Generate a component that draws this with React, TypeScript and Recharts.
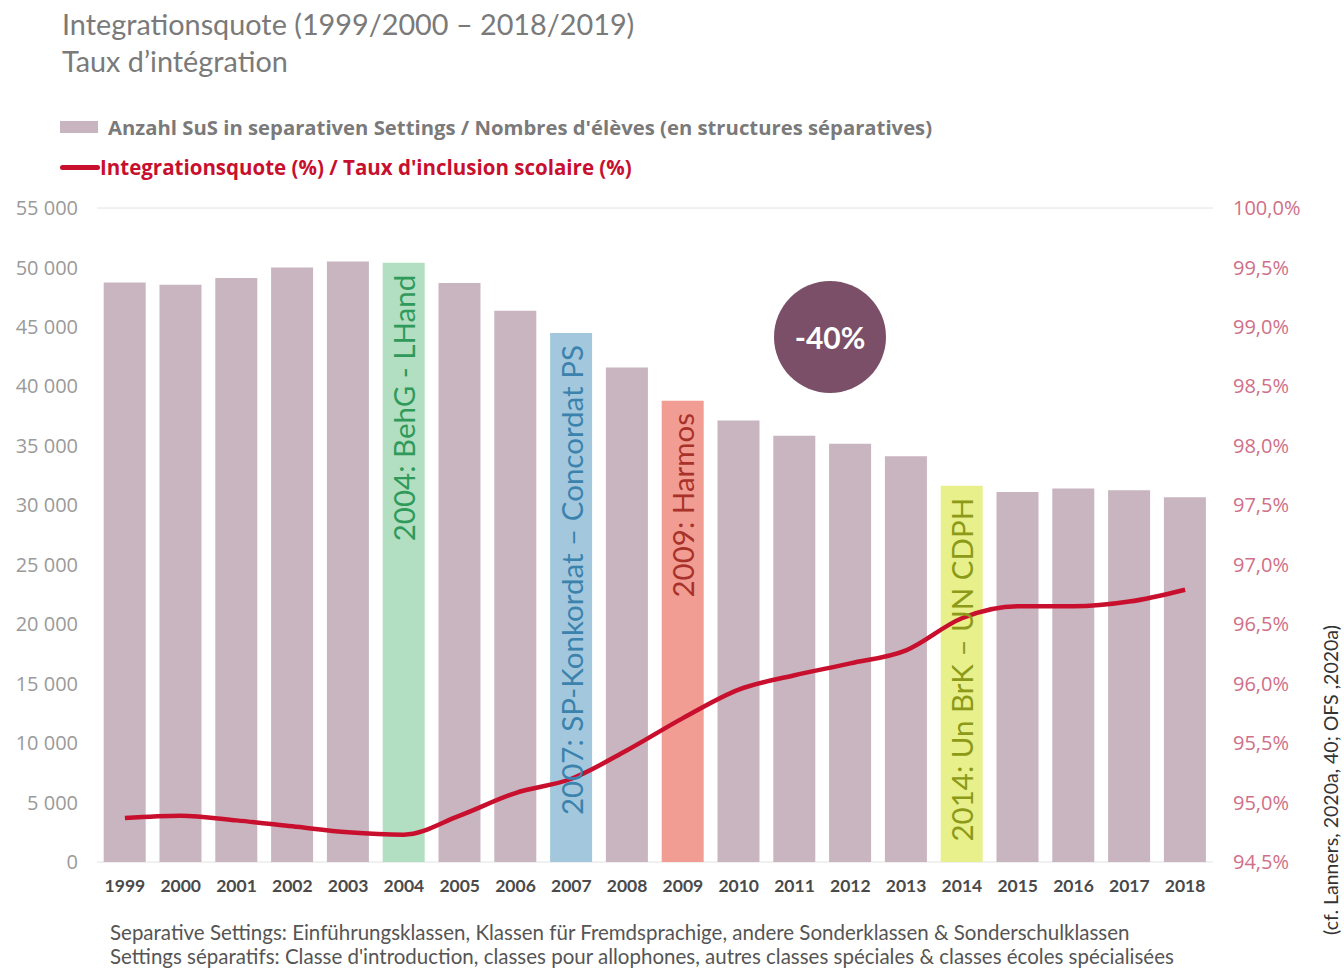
import React from "react";
import {
  ComposedChart,
  Bar,
  Line,
  XAxis,
  YAxis,
  CartesianGrid,
  Cell,
  LabelList,
} from "recharts";

const YEARS = [
  "1999", "2000", "2001", "2002", "2003", "2004", "2005", "2006", "2007", "2008",
  "2009", "2010", "2011", "2012", "2013", "2014", "2015", "2016", "2017", "2018",
];

// Anzahl SuS in separativen Settings
const SEPARATIVE = [
  48740, 48550, 49110, 50000, 50500, 50390, 48690, 46360, 44480, 41590,
  38780, 37120, 35850, 35170, 34120, 31640, 31120, 31420, 31270, 30670,
];

// Integrationsquote (%)
const QUOTE = [
  94.87, 94.89, 94.85, 94.8, 94.75, 94.73, 94.89, 95.08, 95.2, 95.44,
  95.71, 95.95, 96.07, 96.17, 96.28, 96.55, 96.65, 96.65, 96.69, 96.79,
];

const LEFT_TICKS = [0, 5000, 10000, 15000, 20000, 25000, 30000, 35000, 40000, 45000, 50000, 55000];
const RIGHT_TICKS = [94.5, 95, 95.5, 96, 96.5, 97, 97.5, 98, 98.5, 99, 99.5, 100];

const NOTE_YEARS = ["2004", "2007", "2009", "2014"];
const NOTE_TEXTS = [
  "2004: BehG - LHand",
  "2007: SP-Konkordat – Concordat PS",
  "2009: Harmos",
  "2014: Un BrK – UN CDPH",
];
const NOTE_FILLS = ["#b2dfc2", "#a3c8dd", "#f29d93", "#e8f08c"];
const NOTE_TEXT_COLORS = ["#2f9a5a", "#3b82ad", "#a8322a", "#8c9a18"];

const BAR_COLOR = "#c8b5bf";
const LINE_COLOR = "#c8102e";

const data = YEARS.map((year, i) => {
  const n = NOTE_YEARS.indexOf(year);
  return {
    year,
    separative: SEPARATIVE[i],
    quote: QUOTE[i],
    note: n >= 0 ? NOTE_TEXTS[n] : "",
  };
});

const fmtThousands = (v: number) =>
  v === 0 ? "0" : `${Math.floor(v / 1000)} ${String(v % 1000).padStart(3, "0")}`;
const fmtPct = (v: number) => `${v.toFixed(1).replace(".", ",")}%`;

function NoteLabel(props: any) {
  const { x, y, width, value } = props;
  if (!value) return null;
  const n = NOTE_TEXTS.indexOf(value);
  const cx = x + width / 2;
  const ty = y + 12;
  return (
    <text
      x={cx}
      y={ty}
      transform={`rotate(-90 ${cx} ${ty})`}
      textAnchor="end"
      dominantBaseline="central"
      fill={NOTE_TEXT_COLORS[n]}
      fontFamily="Lato, sans-serif"
      fontSize={29.5}
    >
      {value}
    </text>
  );
}

function YearTick(props: any) {
  const { x, y, payload } = props;
  return (
    <text
      x={x}
      y={y}
      dy={14}
      textAnchor="middle"
      fill="#4a4a4a"
      fontFamily="Lato, sans-serif"
      fontWeight={700}
      fontSize={17.5}
    >
      {payload.value}
    </text>
  );
}

export default function App() {
  return (
    <div
      style={{
        position: "absolute",
        left: 0,
        top: 0,
        width: 1344,
        height: 973,
        background: "#fff",
        fontFamily: "Lato, sans-serif",
        overflow: "hidden",
      }}
    >
      <div style={{ position: "absolute", left: 62, top: 6, color: "#7a7a7a", fontSize: 28.8, lineHeight: "37px" }}>
        <div>Integrationsquote (1999/2000 – 2018/2019)</div>
        <div>Taux d’intégration</div>
      </div>

      <div style={{ position: "absolute", left: 60, top: 115, display: "flex", alignItems: "center", height: 24 }}>
        <div style={{ width: 38, height: 12, background: BAR_COLOR, marginRight: 10 }} />
        <span style={{ color: "#7a7a7a", fontWeight: 700, fontSize: 20.3, fontFamily: "Open Sans, sans-serif" }}>
          Anzahl SuS in separativen Settings / Nombres d'élèves (en structures séparatives)
        </span>
      </div>
      <div style={{ position: "absolute", left: 60, top: 155, display: "flex", alignItems: "center", height: 24 }}>
        <div style={{ width: 40, height: 5, background: LINE_COLOR, borderRadius: 3 }} />
        <span style={{ color: LINE_COLOR, fontWeight: 700, fontSize: 20.5, fontFamily: "Open Sans, sans-serif" }}>
          Integrationsquote (%) / Taux d'inclusion scolaire (%)
        </span>
      </div>

      <ComposedChart
        width={1344}
        height={973}
        data={data}
        margin={{ top: 208, right: 51, bottom: 81, left: 17 }}
        barCategoryGap="12%"
        style={{ position: "absolute", left: 0, top: 0 }}
      >
        <CartesianGrid vertical={false} stroke="#e2e2e2" />
        <XAxis
          dataKey="year"
          height={30}
          axisLine={false}
          tickLine={false}
          tick={<YearTick />}
          interval={0}
          tickMargin={10}
        />
        <YAxis
          yAxisId="left"
          orientation="left"
          width={80}
          domain={[0, 55000]}
          ticks={LEFT_TICKS}
          tickFormatter={fmtThousands}
          axisLine={false}
          tickLine={false}
          tickMargin={13}
          tick={{ fill: "#9a9a9a", fontSize: 20, fontFamily: "Open Sans, sans-serif" }}
        />
        <YAxis
          yAxisId="right"
          orientation="right"
          width={80}
          domain={[94.5, 100]}
          ticks={RIGHT_TICKS}
          tickFormatter={fmtPct}
          axisLine={false}
          tickLine={false}
          tickMargin={14}
          tick={{ fill: "#d06f88", fontSize: 20, fontFamily: "Open Sans, sans-serif", textAnchor: "start" }}
        />
        <Bar yAxisId="left" dataKey="separative" isAnimationActive={false}>
          {data.map((d, i) => {
            const n = NOTE_YEARS.indexOf(d.year);
            return <Cell key={`c-${i}`} fill={n >= 0 ? NOTE_FILLS[n] : BAR_COLOR} />;
          })}
          <LabelList dataKey="note" content={<NoteLabel />} />
        </Bar>
        <Line
          yAxisId="right"
          type="monotone"
          dataKey="quote"
          stroke={LINE_COLOR}
          strokeWidth={4.5}
          dot={false}
          isAnimationActive={false}
        />
      </ComposedChart>

      <div
        style={{
          position: "absolute",
          left: 774,
          top: 281,
          width: 112,
          height: 112,
          borderRadius: "50%",
          background: "#7b4f67",
          color: "#fff",
          display: "flex",
          alignItems: "center",
          justifyContent: "center",
          fontWeight: 700,
          fontSize: 30,
        }}
      >
        -40%
      </div>

      <div style={{ position: "absolute", left: 110, top: 920, color: "#555", fontSize: 20.5, lineHeight: "24px" }}>
        <div>Separative Settings: Einführungsklassen, Klassen für Fremdsprachige, andere Sonderklassen &amp; Sonderschulklassen</div>
        <div>Settings séparatifs: Classe d'introduction, classes pour allophones, autres classes spéciales &amp; classes écoles spécialisées</div>
      </div>

      <div
        style={{
          position: "absolute",
          left: 1330,
          top: 780,
          transform: "translate(-50%, -50%) rotate(-90deg)",
          whiteSpace: "nowrap",
          color: "#333",
          fontSize: 19.5,
        }}
      >
        (cf. Lanners, 2020a, 40; OFS ,2020a)
      </div>
    </div>
  );
}
